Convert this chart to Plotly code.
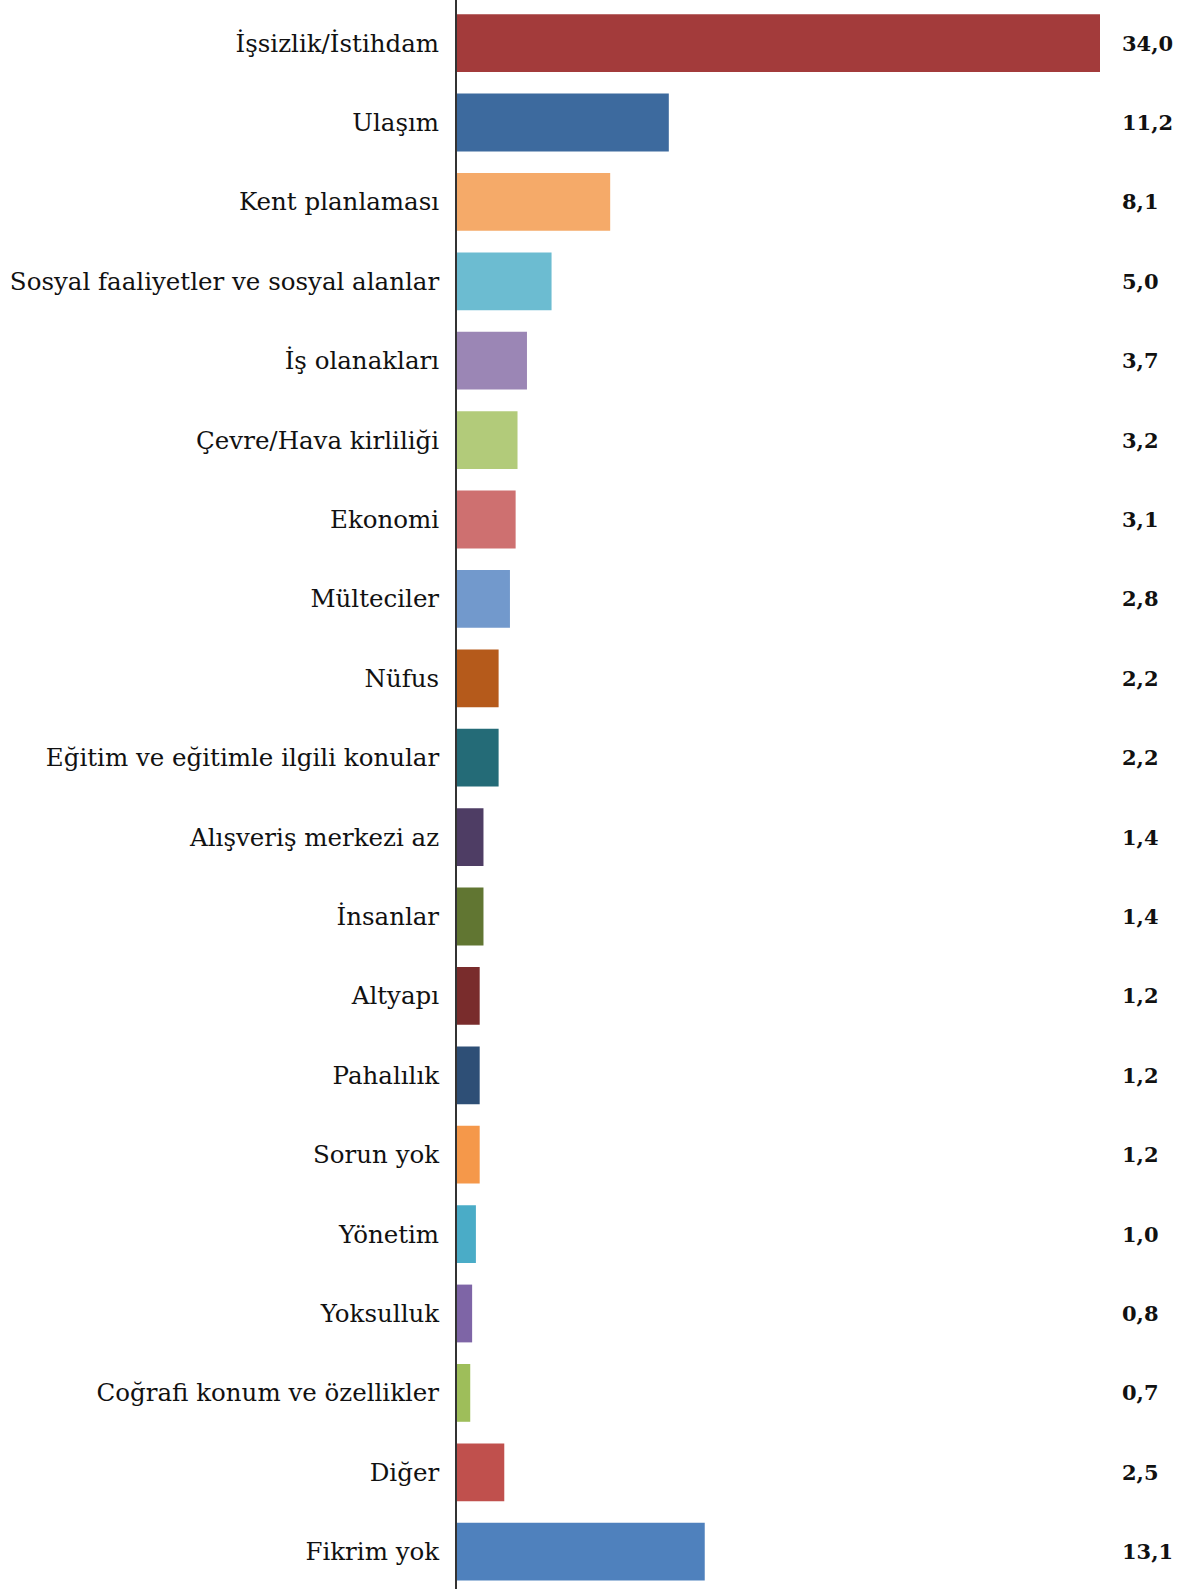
import plotly.graph_objects as go

categories = [
    "İşsizlik/İstihdam", "Ulaşım", "Kent planlaması",
    "Sosyal faaliyetler ve sosyal alanlar", "İş olanakları",
    "Çevre/Hava kirliliği", "Ekonomi", "Mülteciler", "Nüfus",
    "Eğitim ve eğitimle ilgili konular", "Alışveriş merkezi az",
    "İnsanlar", "Altyapı", "Pahalılık", "Sorun yok", "Yönetim",
    "Yoksulluk", "Coğrafi konum ve özellikler", "Diğer", "Fikrim yok",
]
values = [34.0, 11.2, 8.1, 5.0, 3.7, 3.2, 3.1, 2.8, 2.2, 2.2,
          1.4, 1.4, 1.2, 1.2, 1.2, 1.0, 0.8, 0.7, 2.5, 13.1]
colors = [
    "#A33B3B", "#3D6A9E", "#F5AA69", "#6CBCD1", "#9B86B5",
    "#B2CB7A", "#CE7070", "#7299CC", "#B55A1B", "#246B77",
    "#4E3D64", "#617632", "#792C2C", "#2E4F76", "#F5984A",
    "#4AACC7", "#7E65A6", "#9EBE5A", "#C0504D", "#4F81BD",
]

FONT = "DejaVu Serif"

fig = go.Figure(
    go.Bar(
        x=values, y=categories, orientation="h",
        marker=dict(color=colors, line=dict(width=0)),
        showlegend=False,
    )
)

# value labels just past the plot area's right edge
for cat, v in zip(categories, values):
    fig.add_annotation(
        x=1, xref="paper", y=cat, yref="y",
        text=f"<b>{v:.1f}</b>".replace(".", ","),
        showarrow=False, xanchor="left", xshift=20,
        font=dict(family=FONT, size=21, color="#111"),
    )

fig.update_layout(
    width=1179, height=1589,
    margin=dict(l=457, r=79, t=0, b=0),
    paper_bgcolor="white", plot_bgcolor="white",
    bargap=0.272,
    font=dict(family=FONT, size=24.5, color="#111"),
    xaxis=dict(range=[0, 34], visible=False, showgrid=False, zeroline=False),
    yaxis=dict(
        range=[19.47, -0.543], showgrid=False, zeroline=False,
        showline=True, linecolor="#333", linewidth=2,
        ticks="", ticklabelstandoff=11, automargin=False,
    ),
)

# drop the default body margin so the figure sits flush with the window
fig.write_html(
    "out.html",
    config={"displayModeBar": False},
    post_script="document.body.style.margin='0';document.body.style.overflow='hidden';",
)
